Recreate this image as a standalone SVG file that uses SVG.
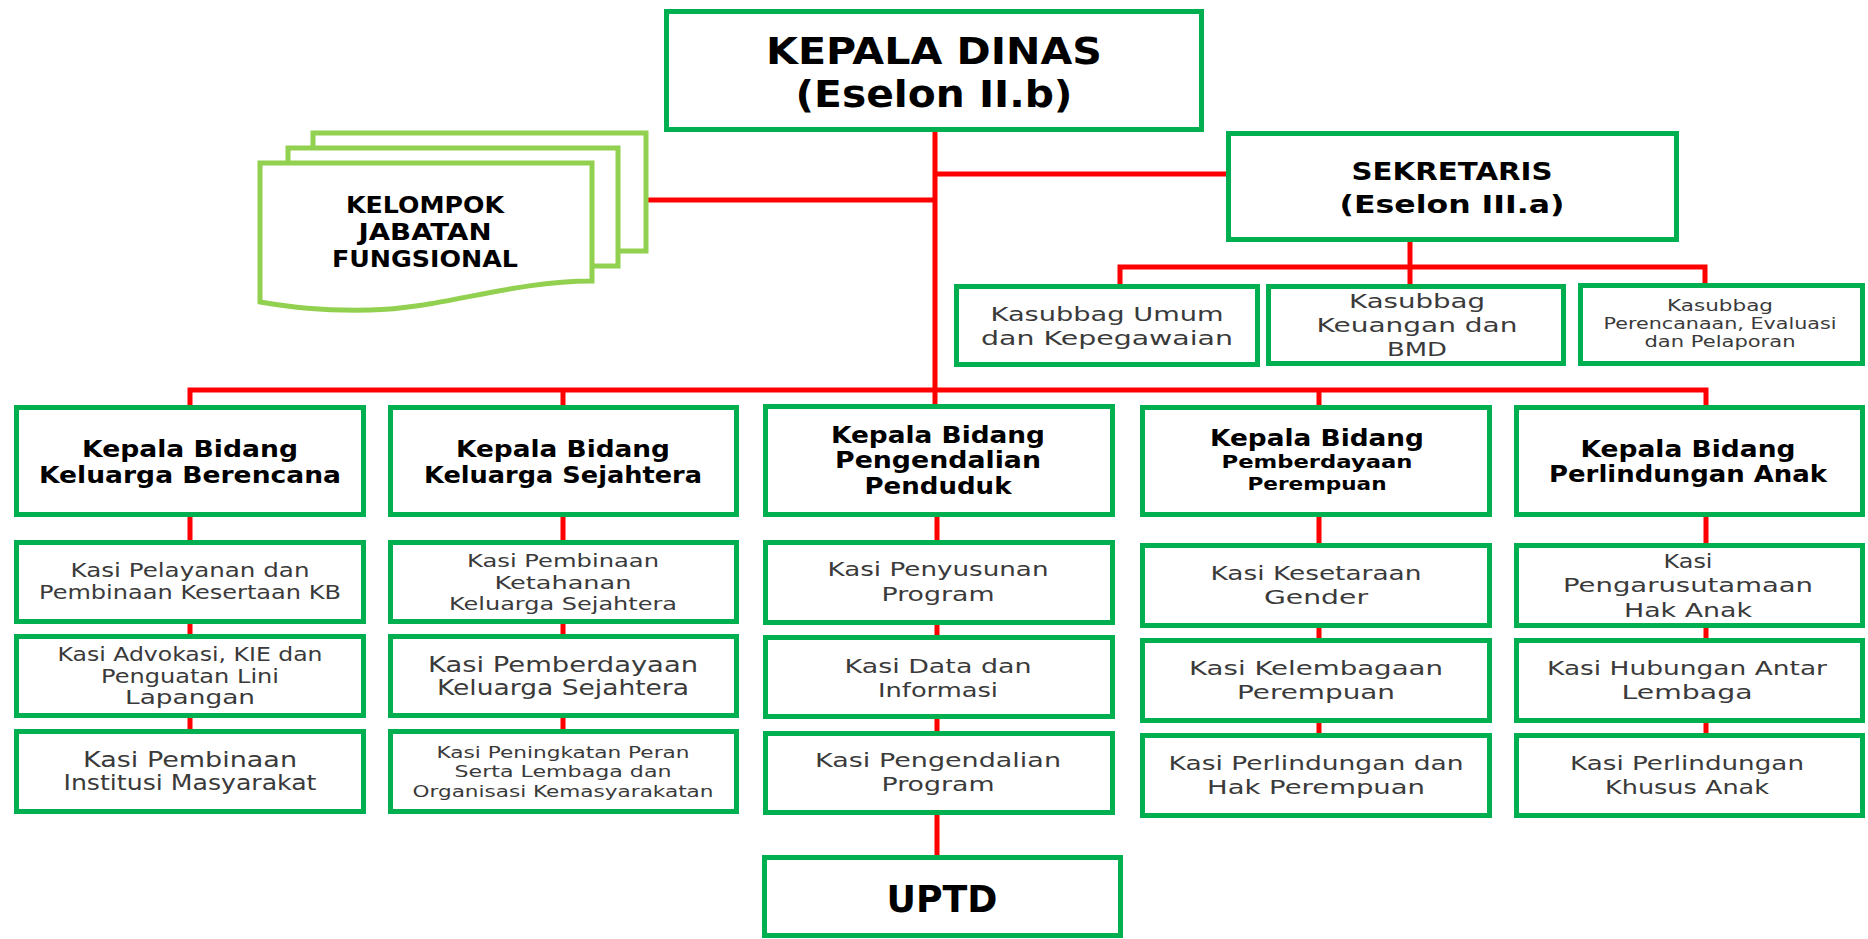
<svg xmlns="http://www.w3.org/2000/svg" width="1868" height="939" viewBox="0 0 1868 939">
<style>
.box{fill:#fff;stroke:#00B050;stroke-width:5}
.doc{fill:#fff;stroke:#92D050;stroke-width:5}
.con{fill:none;stroke:#FF0000;stroke-width:5}
text{font-family:"DejaVu Sans","Liberation Sans",sans-serif;text-anchor:middle}
.b{font-weight:bold;fill:#000}
.r{fill:#3a3a3a}
</style>
<rect width="1868" height="939" fill="#fff"/>
<g id="connectors">
<path class="con" d="M935,131 V406"/>
<path class="con" d="M648,200 H935"/>
<path class="con" d="M935,174 H1228"/>
<path class="con" d="M1410,242 V284"/>
<path class="con" d="M1120,285 V267 H1705 V285"/>
<path class="con" d="M190,407 V390 H1706 V407"/>
<path class="con" d="M563,390 V407"/>
<path class="con" d="M1319,390 V407"/>
<path class="con" d="M190,517 V731"/>
<path class="con" d="M563,517 V731"/>
<path class="con" d="M937,517 V857"/>
<path class="con" d="M1319,517 V735"/>
<path class="con" d="M1706,517 V735"/>
</g>
<g id="kepala-dinas">
<rect class="box" x="666.5" y="11.5" width="535" height="118"/>
<text class="b" x="934" y="64" font-size="38" textLength="336" lengthAdjust="spacingAndGlyphs">KEPALA DINAS</text>
<text class="b" x="934" y="107" font-size="38" textLength="277" lengthAdjust="spacingAndGlyphs">(Eselon II.b)</text>
</g>
<g id="kelompok-jabatan-fungsional">
<rect class="doc" x="313" y="133" width="333" height="118"/>
<rect class="doc" x="288" y="148" width="330" height="118"/>
<path class="doc" d="M260,163 H592 V281 C510,281 440,309 370,310 C320,311 290,307 260,302 Z"/>
<text class="b" x="425" y="213" font-size="23" textLength="158" lengthAdjust="spacingAndGlyphs">KELOMPOK</text>
<text class="b" x="425" y="240" font-size="23" textLength="133" lengthAdjust="spacingAndGlyphs">JABATAN</text>
<text class="b" x="425" y="267" font-size="23" textLength="186" lengthAdjust="spacingAndGlyphs">FUNGSIONAL</text>
</g>
<g id="sekretaris">
<rect class="box" x="1228.5" y="133.5" width="448" height="106"/>
<text class="b" x="1452" y="180" font-size="25" textLength="201" lengthAdjust="spacingAndGlyphs">SEKRETARIS</text>
<text class="b" x="1452" y="213" font-size="25" textLength="225" lengthAdjust="spacingAndGlyphs">(Eselon III.a)</text>
</g>
<g id="kasubbag-umum">
<rect class="box" x="956.5" y="286.5" width="301" height="78"/>
<text class="r" x="1107" y="321" font-size="19" textLength="233" lengthAdjust="spacingAndGlyphs">Kasubbag Umum</text>
<text class="r" x="1107" y="345" font-size="19" textLength="252" lengthAdjust="spacingAndGlyphs">dan Kepegawaian</text>
</g>
<g id="kasubbag-keuangan">
<rect class="box" x="1268.5" y="286.5" width="295" height="77"/>
<text class="r" x="1417" y="308" font-size="19" textLength="136" lengthAdjust="spacingAndGlyphs">Kasubbag</text>
<text class="r" x="1417" y="332" font-size="19" textLength="201" lengthAdjust="spacingAndGlyphs">Keuangan dan</text>
<text class="r" x="1417" y="356" font-size="19" textLength="60" lengthAdjust="spacingAndGlyphs">BMD</text>
</g>
<g id="kasubbag-perencanaan">
<rect class="box" x="1580.5" y="285.5" width="282" height="78"/>
<text class="r" x="1720" y="311" font-size="15" textLength="106" lengthAdjust="spacingAndGlyphs">Kasubbag</text>
<text class="r" x="1720" y="329" font-size="15" textLength="233" lengthAdjust="spacingAndGlyphs">Perencanaan, Evaluasi</text>
<text class="r" x="1720" y="347" font-size="15" textLength="151" lengthAdjust="spacingAndGlyphs">dan Pelaporan</text>
</g>
<g id="kabid-kb">
<rect class="box" x="16.5" y="407.5" width="347" height="107"/>
<text class="b" x="190" y="457" font-size="23" textLength="216" lengthAdjust="spacingAndGlyphs">Kepala Bidang</text>
<text class="b" x="190" y="483" font-size="23" textLength="302" lengthAdjust="spacingAndGlyphs">Keluarga Berencana</text>
</g>
<g id="kasi-kb-1">
<rect class="box" x="16.5" y="542.5" width="347" height="79"/>
<text class="r" x="190" y="577" font-size="19" textLength="239" lengthAdjust="spacingAndGlyphs">Kasi Pelayanan dan</text>
<text class="r" x="190" y="599" font-size="19" textLength="302" lengthAdjust="spacingAndGlyphs">Pembinaan Kesertaan KB</text>
</g>
<g id="kasi-kb-2">
<rect class="box" x="16.5" y="636.5" width="347" height="79"/>
<text class="r" x="190" y="661" font-size="19" textLength="265" lengthAdjust="spacingAndGlyphs">Kasi Advokasi, KIE dan</text>
<text class="r" x="190" y="683" font-size="19" textLength="178" lengthAdjust="spacingAndGlyphs">Penguatan Lini</text>
<text class="r" x="190" y="704" font-size="19" textLength="130" lengthAdjust="spacingAndGlyphs">Lapangan</text>
</g>
<g id="kasi-kb-3">
<rect class="box" x="16.5" y="731.5" width="347" height="80"/>
<text class="r" x="190" y="767" font-size="21" textLength="214" lengthAdjust="spacingAndGlyphs">Kasi Pembinaan</text>
<text class="r" x="190" y="790" font-size="21" textLength="253" lengthAdjust="spacingAndGlyphs">Institusi Masyarakat</text>
</g>
<g id="kabid-ks">
<rect class="box" x="390.5" y="407.5" width="346" height="107"/>
<text class="b" x="563" y="457" font-size="23" textLength="214" lengthAdjust="spacingAndGlyphs">Kepala Bidang</text>
<text class="b" x="563" y="483" font-size="23" textLength="278" lengthAdjust="spacingAndGlyphs">Keluarga Sejahtera</text>
</g>
<g id="kasi-ks-1">
<rect class="box" x="390.5" y="542.5" width="346" height="79"/>
<text class="r" x="563" y="567" font-size="18" textLength="192" lengthAdjust="spacingAndGlyphs">Kasi Pembinaan</text>
<text class="r" x="563" y="589" font-size="18" textLength="137" lengthAdjust="spacingAndGlyphs">Ketahanan</text>
<text class="r" x="563" y="610" font-size="18" textLength="228" lengthAdjust="spacingAndGlyphs">Keluarga Sejahtera</text>
</g>
<g id="kasi-ks-2">
<rect class="box" x="390.5" y="636.5" width="346" height="79"/>
<text class="r" x="563" y="672" font-size="21" textLength="270" lengthAdjust="spacingAndGlyphs">Kasi Pemberdayaan</text>
<text class="r" x="563" y="695" font-size="21" textLength="252" lengthAdjust="spacingAndGlyphs">Keluarga Sejahtera</text>
</g>
<g id="kasi-ks-3">
<rect class="box" x="390.5" y="731.5" width="346" height="80"/>
<text class="r" x="563" y="758" font-size="16" textLength="253" lengthAdjust="spacingAndGlyphs">Kasi Peningkatan Peran</text>
<text class="r" x="563" y="777" font-size="16" textLength="217" lengthAdjust="spacingAndGlyphs">Serta Lembaga dan</text>
<text class="r" x="563" y="797" font-size="16" textLength="301" lengthAdjust="spacingAndGlyphs">Organisasi Kemasyarakatan</text>
</g>
<g id="kabid-pp">
<rect class="box" x="765.5" y="406.5" width="347" height="108"/>
<text class="b" x="938" y="443" font-size="23" textLength="214" lengthAdjust="spacingAndGlyphs">Kepala Bidang</text>
<text class="b" x="938" y="468" font-size="23" textLength="206" lengthAdjust="spacingAndGlyphs">Pengendalian</text>
<text class="b" x="938" y="494" font-size="23" textLength="147" lengthAdjust="spacingAndGlyphs">Penduduk</text>
</g>
<g id="kasi-pp-1">
<rect class="box" x="765.5" y="542.5" width="347" height="80"/>
<text class="r" x="938" y="576" font-size="20" textLength="221" lengthAdjust="spacingAndGlyphs">Kasi Penyusunan</text>
<text class="r" x="938" y="601" font-size="20" textLength="113" lengthAdjust="spacingAndGlyphs">Program</text>
</g>
<g id="kasi-pp-2">
<rect class="box" x="765.5" y="637.5" width="347" height="79"/>
<text class="r" x="938" y="673" font-size="20" textLength="187" lengthAdjust="spacingAndGlyphs">Kasi Data dan</text>
<text class="r" x="938" y="697" font-size="20" textLength="120" lengthAdjust="spacingAndGlyphs">Informasi</text>
</g>
<g id="kasi-pp-3">
<rect class="box" x="765.5" y="733.5" width="347" height="79"/>
<text class="r" x="938" y="767" font-size="20" textLength="246" lengthAdjust="spacingAndGlyphs">Kasi Pengendalian</text>
<text class="r" x="938" y="791" font-size="20" textLength="113" lengthAdjust="spacingAndGlyphs">Program</text>
</g>
<g id="uptd">
<rect class="box" x="764.5" y="857.5" width="356" height="78"/>
<text class="b" x="942" y="912" font-size="37" textLength="111" lengthAdjust="spacingAndGlyphs">UPTD</text>
</g>
<g id="kabid-pem">
<rect class="box" x="1142.5" y="407.5" width="347" height="107"/>
<text class="b" x="1317" y="446" font-size="23" textLength="214" lengthAdjust="spacingAndGlyphs">Kepala Bidang</text>
<text class="b" x="1317" y="468" font-size="18" textLength="191" lengthAdjust="spacingAndGlyphs">Pemberdayaan</text>
<text class="b" x="1317" y="490" font-size="18" textLength="139" lengthAdjust="spacingAndGlyphs">Perempuan</text>
</g>
<g id="kasi-pem-1">
<rect class="box" x="1142.5" y="545.5" width="347" height="80"/>
<text class="r" x="1316" y="580" font-size="20" textLength="211" lengthAdjust="spacingAndGlyphs">Kasi Kesetaraan</text>
<text class="r" x="1316" y="604" font-size="20" textLength="104" lengthAdjust="spacingAndGlyphs">Gender</text>
</g>
<g id="kasi-pem-2">
<rect class="box" x="1142.5" y="640.5" width="347" height="80"/>
<text class="r" x="1316" y="675" font-size="20" textLength="254" lengthAdjust="spacingAndGlyphs">Kasi Kelembagaan</text>
<text class="r" x="1316" y="699" font-size="20" textLength="158" lengthAdjust="spacingAndGlyphs">Perempuan</text>
</g>
<g id="kasi-pem-3">
<rect class="box" x="1142.5" y="735.5" width="347" height="80"/>
<text class="r" x="1316" y="770" font-size="20" textLength="295" lengthAdjust="spacingAndGlyphs">Kasi Perlindungan dan</text>
<text class="r" x="1316" y="794" font-size="20" textLength="218" lengthAdjust="spacingAndGlyphs">Hak Perempuan</text>
</g>
<g id="kabid-anak">
<rect class="box" x="1516.5" y="407.5" width="346" height="107"/>
<text class="b" x="1688" y="457" font-size="23" textLength="215" lengthAdjust="spacingAndGlyphs">Kepala Bidang</text>
<text class="b" x="1688" y="482" font-size="23" textLength="278" lengthAdjust="spacingAndGlyphs">Perlindungan Anak</text>
</g>
<g id="kasi-anak-1">
<rect class="box" x="1516.5" y="545.5" width="346" height="80"/>
<text class="r" x="1688" y="568" font-size="20" textLength="49" lengthAdjust="spacingAndGlyphs">Kasi</text>
<text class="r" x="1688" y="592" font-size="20" textLength="250" lengthAdjust="spacingAndGlyphs">Pengarusutamaan</text>
<text class="r" x="1688" y="617" font-size="20" textLength="128" lengthAdjust="spacingAndGlyphs">Hak Anak</text>
</g>
<g id="kasi-anak-2">
<rect class="box" x="1516.5" y="640.5" width="346" height="80"/>
<text class="r" x="1687" y="675" font-size="20" textLength="280" lengthAdjust="spacingAndGlyphs">Kasi Hubungan Antar</text>
<text class="r" x="1687" y="699" font-size="20" textLength="131" lengthAdjust="spacingAndGlyphs">Lembaga</text>
</g>
<g id="kasi-anak-3">
<rect class="box" x="1516.5" y="735.5" width="346" height="80"/>
<text class="r" x="1687" y="770" font-size="20" textLength="234" lengthAdjust="spacingAndGlyphs">Kasi Perlindungan</text>
<text class="r" x="1687" y="794" font-size="20" textLength="164" lengthAdjust="spacingAndGlyphs">Khusus Anak</text>
</g>
</svg>
